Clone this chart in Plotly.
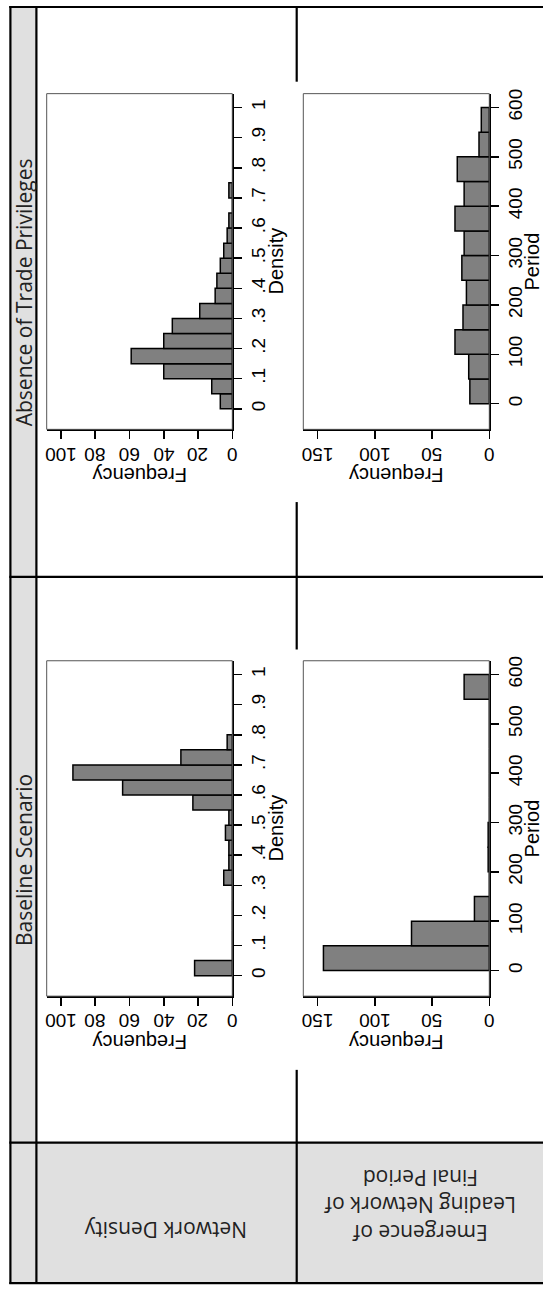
import plotly.graph_objects as go

W, H = 543, 1291

# ---------------- data ----------------
density_bin_width = 0.05
absence_density_counts = [7, 12, 40, 59, 40, 35, 19, 10, 9, 7, 5, 3, 2, 0, 2]
baseline_density_counts = [22, 0, 0, 0, 0, 0, 5, 2, 2, 4, 2, 23, 64, 93, 30, 3]

period_bin_width = 50
absence_period_counts = [17, 18, 30, 23, 20, 24, 22, 30, 22, 28, 9, 7]
baseline_period_counts = [145, 68, 13, 0, 1, 1, 0, 0, 0, 0, 0, 22]

density_ticks = [0, 0.1, 0.2, 0.3, 0.4, 0.5, 0.6, 0.7, 0.8, 0.9, 1.0]
density_tick_labels = ["0", ".1", ".2", ".3", ".4", ".5", ".6", ".7", ".8", ".9", "1"]
density_freq_ticks = [0, 20, 40, 60, 80, 100]
period_ticks = [0, 100, 200, 300, 400, 500, 600]
period_freq_ticks = [0, 50, 100, 150]

row_labels = ["Absence of Trade Privileges", "Baseline Scenario"]
col_labels = ["Network Density", "Emergence of<br>Leading Network of<br>Final Period"]
x_title_density = "Density"
x_title_period = "Period"
y_title = "Frequency"

# ---------------- helpers ----------------
def X(px):
    return px / W

def Y(py):
    return 1 - py / H

def centers(n, w):
    return [w * (i + 0.5) for i in range(n)]

TICK_FONT = dict(family="Liberation Sans, Arial", size=19, color="black")
TITLE_FONT = dict(family="Liberation Sans, Arial", size=20, color="black")
TABLE_FONT = dict(family="Open Sans, Noto Sans", size=21, color="#222222")

# plot frames in pixels
left_x = (46.7, 232.3)
right_x = (303.3, 489.3)
top_y = (89.0, 426.0)
bot_y = (658.3, 995.0)

panels = [
    (left_x, top_y, absence_density_counts, density_bin_width, "density"),
    (right_x, top_y, absence_period_counts, period_bin_width, "period"),
    (left_x, bot_y, baseline_density_counts, density_bin_width, "density"),
    (right_x, bot_y, baseline_period_counts, period_bin_width, "period"),
]

fig = go.Figure()
layout = {}
shapes = []
annotations = []

def ann(text, x, y, angle, font, xref="paper", **kw):
    d = dict(text=text, xref=xref, yref="paper", x=x, y=y, textangle=angle,
             showarrow=False, font=font, xanchor="center", yanchor="middle",
             borderpad=0)
    d.update(kw)
    annotations.append(d)

for i, (xp, yp, counts, bw, kind) in enumerate(panels):
    n = i + 1
    xa = "x" if n == 1 else f"x{n}"
    ya = "y" if n == 1 else f"y{n}"
    fig.add_trace(go.Bar(
        y=centers(len(counts), bw), x=counts, orientation="h", width=bw,
        marker=dict(color="#808080", line=dict(color="black", width=1.5)),
        xaxis=xa, yaxis=ya, showlegend=False, hoverinfo="skip",
    ))
    xkey = "xaxis" if n == 1 else f"xaxis{n}"
    ykey = "yaxis" if n == 1 else f"yaxis{n}"
    if kind == "density":
        xrange = [108.3, 0]
        xt = density_freq_ticks
        yrange = [-0.068, 1.046]
        yt, ytl = density_ticks, density_tick_labels
        xtitle = x_title_density
        xtitle_px = 276
    else:
        xrange = [162.6, 0]
        xt = period_freq_ticks
        yrange = [-52, 628]
        yt, ytl = period_ticks, [str(v) for v in period_ticks]
        xtitle = x_title_period
        xtitle_px = 532
    layout[xkey] = dict(
        domain=[X(xp[0]), X(xp[1])], anchor=ya, range=xrange,
        tickvals=xt, showticklabels=False,
        ticks="outside", ticklen=8, tickwidth=1.5, tickcolor="black",
        showline=True, linecolor="black", linewidth=1.5,
        showgrid=False, zeroline=False, fixedrange=True,
    )
    layout[ykey] = dict(
        domain=[Y(yp[1]), Y(yp[0])], anchor=xa, side="right", range=yrange,
        tickvals=yt, ticktext=ytl, tickangle=-90,
        ticks="outside", ticklen=8, tickwidth=1.5, tickcolor="black",
        showline=True, linecolor="black", linewidth=1.5,
        showgrid=False, zeroline=False, tickfont=TICK_FONT, fixedrange=True,
    )
    # upside-down frequency tick labels placed on the axis scale
    for v in xt:
        ann(str(v), v, Y(yp[1] + 25), 180, TICK_FONT, xref=xa)
    # frame (thin gray)
    shapes.append(dict(type="rect", xref="paper", yref="paper",
                       x0=X(xp[0]), x1=X(xp[1]), y0=Y(yp[1]), y1=Y(yp[0]),
                       line=dict(color="#555555", width=1)))
    # axis titles
    ann(xtitle, X(xtitle_px), Y((yp[0] + yp[1]) / 2), -90, TITLE_FONT)
    ann(y_title, X((xp[0] + xp[1]) / 2), Y(yp[1] + 46), 180, TITLE_FONT)

# ---------------- table ----------------
GRAY = "#e0e0e0"
shapes.insert(0, dict(type="rect", xref="paper", yref="paper", layer="below",
                      x0=X(10.4), x1=X(36.4), y0=Y(1142), y1=Y(2),
                      fillcolor=GRAY, line=dict(width=0)))
shapes.insert(0, dict(type="rect", xref="paper", yref="paper", layer="below",
                      x0=X(10.4), x1=X(545), y0=Y(1283), y1=Y(1142),
                      fillcolor=GRAY, line=dict(width=0)))

def hline(y, x0, x1, w=2.2):
    shapes.append(dict(type="line", xref="paper", yref="paper",
                       x0=X(x0), x1=X(x1), y0=Y(y), y1=Y(y),
                       line=dict(color="black", width=w)))

def vline(x, y0, y1, w=2.2):
    shapes.append(dict(type="line", xref="paper", yref="paper",
                       x0=X(x), x1=X(x), y0=Y(y0), y1=Y(y1),
                       line=dict(color="black", width=w)))

hline(2, 9.3, 545)
hline(1283, 9.3, 545)
hline(574, 9.3, 545)
hline(1142, 9.3, 545)
vline(10.4, 1, 1284)
vline(36.4, 1, 1284)
vline(296.7, 1, 77)
vline(296.7, 499, 647)
vline(296.7, 1069, 1284)

ann(row_labels[0], X(23.4), Y(288), -90, TABLE_FONT)
ann(row_labels[1], X(23.4), Y(858), -90, TABLE_FONT)
ann(col_labels[0], X(166), Y(1230), 180, TABLE_FONT)
ann(col_labels[1], X(420), Y(1205), 180, TABLE_FONT, align="center")

fig.update_layout(
    width=W, height=H, margin=dict(l=0, r=0, t=0, b=0),
    paper_bgcolor="white", plot_bgcolor="white",
    shapes=shapes, annotations=annotations, bargap=0,
    **layout,
)

# remove the default page margin so the 543x1291 figure fills the window exactly
fig.write_html("out.html",
               config={"displayModeBar": False, "staticPlot": True},
               post_script="document.body.style.margin='0';document.body.style.overflow='hidden';")
